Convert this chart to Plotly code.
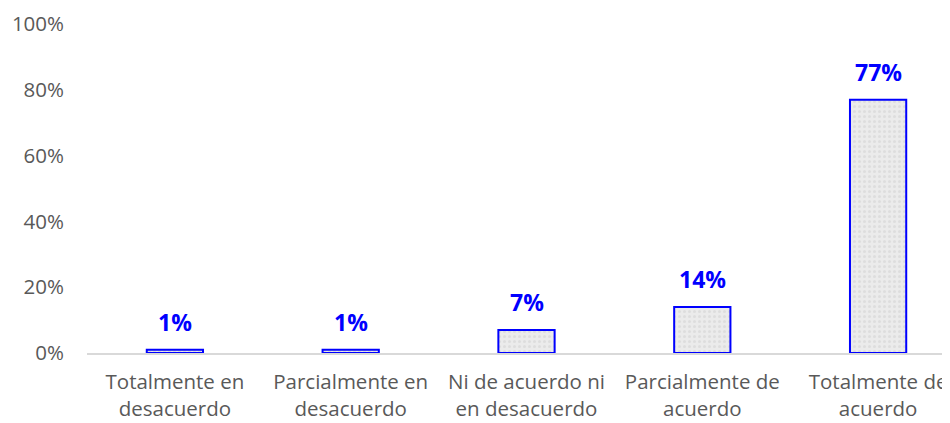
import plotly.graph_objects as go

categories = ["Totalmente en<br>desacuerdo", "Parcialmente en<br>desacuerdo",
              "Ni de acuerdo ni<br>en desacuerdo", "Parcialmente de<br>acuerdo",
              "Totalmente de<br>acuerdo"]
values = [1, 1, 7, 14, 77]
labels = ["1%", "1%", "7%", "14%", "77%"]
y_ticks = [0, 20, 40, 60, 80, 100]
y_tick_labels = ["0%", "20%", "40%", "60%", "80%", "100%"]

fig = go.Figure()
fig.add_trace(go.Bar(
    x=categories, y=values, width=0.32,
    marker=dict(color="#e9e9e9", line=dict(color="#0000ff", width=2),
                pattern=dict(shape=".", fgcolor="#d0d0d0", bgcolor="#ebebeb", size=5, solidity=0.3)),
    hoverinfo="skip",
))
for c, v, t in zip(categories, values, labels):
    fig.add_annotation(x=c, y=v, text=f"<b>{t}</b>", showarrow=False, yanchor="bottom", yshift=10,
                       font=dict(family="Open Sans, Liberation Sans", size=23, color="#0000ff"))

fig.update_layout(
    width=958, height=423, margin=dict(l=79, r=0, t=16, b=78),
    paper_bgcolor="white", plot_bgcolor="white", showlegend=False,
    font=dict(family="Open Sans, Liberation Sans", color="#595959"),
)
fig.update_xaxes(range=[-0.5, 4.5], showline=True, linecolor="#d9d9d9", linewidth=1.5,
                 ticks="", tickfont=dict(size=20.5, color="#595959"), ticklabelstandoff=10)
fig.update_yaxes(range=[0, 100], tickvals=y_ticks, ticktext=y_tick_labels, showgrid=False,
                 zeroline=False, showline=False, tickfont=dict(size=20.5, color="#595959"),
                 ticklabelstandoff=22)
fig.write_html("out.html")
